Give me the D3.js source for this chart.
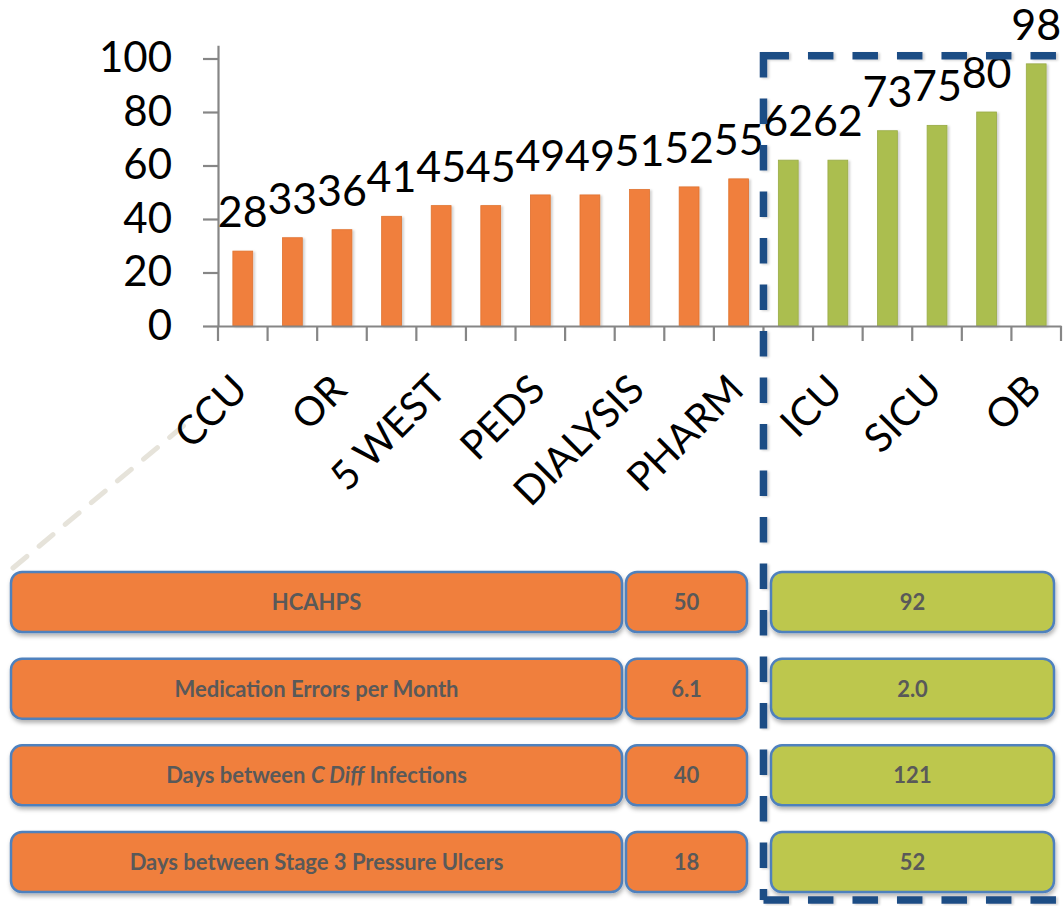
<!DOCTYPE html>
<html><head><meta charset="utf-8">
<script src="https://cdn.jsdelivr.net/npm/d3@7"></script>
<style>body{margin:0;background:#fff;overflow:hidden} svg{display:block}</style>
</head><body><svg id="c" width="1063" height="906"></svg>
<script>
// ---- data ----
const categories = ["CCU","","OR","","5 WEST","","PEDS","","DIALYSIS","","PHARM","","ICU","","SICU","","OB"];
const values = [28,33,36,41,45,45,49,49,51,52,55,62,62,73,75,80,98];
const groups = ["low","low","low","low","low","low","low","low","low","low","low","high","high","high","high","high","high"];
const yTicks = [0,20,40,60,80,100];
const metrics = ["HCAHPS","Medication Errors per Month","Days between C Diff Infections","Days between Stage 3 Pressure Ulcers"];
const italicTerm = "C Diff";
const lowValues = ["50","6.1","40","18"];
const highValues = ["92","2.0","121","52"];

// ---- styles ----
const ORANGE = "#F07F3C", ORANGE_EDGE = "#e0722f";
const GREEN_BAR = "#abbe50", GREEN_EDGE = "#98ab45";
const GREEN_BOX = "#bdc74e";
const BOX_STROKE = "#4f81bd";
const AXIS = "#868686";
const FONT = "Lato, 'Open Sans', sans-serif";

const svg = d3.select("#c");
const defs = svg.append("defs");
const sh = defs.append("filter").attr("id","sh").attr("x","-10%").attr("y","-20%").attr("width","130%").attr("height","160%");
sh.append("feDropShadow").attr("dx",1).attr("dy",3).attr("stdDeviation",2).attr("flood-color","#000").attr("flood-opacity",0.3);
const shb = defs.append("filter").attr("id","shb").attr("x","-50%").attr("y","-10%").attr("width","200%").attr("height","120%");
shb.append("feDropShadow").attr("dx",2).attr("dy",1).attr("stdDeviation",1.2).attr("flood-color","#000").attr("flood-opacity",0.18);

// ---- scales ----
const x = d3.scaleBand().domain(d3.range(values.length)).range([218, 1061]).paddingInner(0.6).paddingOuter(0.3);
const y = d3.scaleLinear().domain([0, 105]).range([326, 326 - 105 * 2.675]);
const x0 = x.range()[0], step = x.step();

// faint dashed callout line
svg.append("line").attr("x1",13).attr("y1",568).attr("x2",194).attr("y2",417)
  .attr("stroke","#e6e3da").attr("stroke-width",5).attr("stroke-dasharray","18,16").attr("stroke-linecap","round");

// bars
svg.append("g").selectAll("rect").data(values).join("rect")
  .attr("x",(d,i)=>x(i)).attr("width",x.bandwidth())
  .attr("y",d=>y(d)).attr("height",d=>y(0)-y(d))
  .attr("fill",(d,i)=>groups[i]==="low"?ORANGE:GREEN_BAR)
  .attr("stroke",(d,i)=>groups[i]==="low"?ORANGE_EDGE:GREEN_EDGE).attr("stroke-width",0.8)
  .attr("filter","url(#shb)");

// y axis
const ya = svg.append("g").attr("transform",`translate(${x0},0)`)
  .call(d3.axisLeft(y).tickValues(yTicks).tickSize(15).tickSizeOuter(0).tickPadding(31));
ya.select(".domain").attr("stroke",AXIS).attr("stroke-width",2.2);
ya.selectAll(".tick line").attr("stroke",AXIS).attr("stroke-width",2.2);
ya.selectAll(".tick text").attr("font-family",FONT).attr("font-size",42).attr("fill","#000");

// x axis
const xa = svg.append("g").attr("transform",`translate(0,${y(0)})`)
  .call(d3.axisBottom(x).tickSize(0).tickSizeOuter(0).tickFormat(i=>categories[i]));
xa.select(".domain").attr("stroke",AXIS).attr("stroke-width",2.2);
xa.selectAll(".tick text").attr("font-family",FONT).attr("font-size",40).attr("fill","#000")
  .attr("text-anchor","end").attr("dy",0).attr("y",0)
  .attr("transform","translate(7,66) rotate(-45)");
xa.append("g").selectAll("line").data(d3.range(values.length+1)).join("line")
  .attr("x1",i=>x0+i*step).attr("x2",i=>x0+i*step).attr("y1",0).attr("y2",15)
  .attr("stroke",AXIS).attr("stroke-width",2.2);

// data labels
svg.append("g").selectAll("text").data(values).join("text")
  .attr("x",(d,i)=>x(i)+x.bandwidth()/2).attr("y",d=>y(d)-24)
  .attr("text-anchor","middle").attr("font-family",FONT).attr("font-size",43).attr("fill","#000")
  .text(d=>d);

// ---- table ----
const rows = d3.scaleBand().domain(metrics).range([572, 892]).paddingInner(0.3077);
const cols = {label:[11,622], low:[626,747], high:[771,1054]};
const tg = svg.append("g");
function boxes(key, fill, texts){
  const g = tg.append("g");
  const c = cols[key];
  g.selectAll("rect").data(metrics).join("rect")
    .attr("x",c[0]).attr("width",c[1]-c[0]).attr("y",d=>rows(d)).attr("height",rows.bandwidth())
    .attr("rx",11).attr("fill",fill).attr("stroke",BOX_STROKE).attr("stroke-width",2.5)
    .attr("filter","url(#sh)");
  const t = g.selectAll("text").data(metrics).join("text")
    .attr("x",(c[0]+c[1])/2).attr("y",d=>rows(d)+rows.bandwidth()/2)
    .attr("dy","0.36em").attr("text-anchor","middle")
    .attr("font-family",FONT).attr("font-weight","bold").attr("font-size",22).attr("fill","#595959");
  t.each(function(d,i){
    const s = texts[i];
    const el = d3.select(this);
    const k = s.indexOf(italicTerm);
    if(k>=0){
      el.append("tspan").text(s.slice(0,k));
      el.append("tspan").attr("font-style","italic").text(italicTerm);
      el.append("tspan").text(s.slice(k+italicTerm.length));
    } else el.text(s);
  });
}
boxes("label", ORANGE, metrics);
boxes("low", ORANGE, lowValues);
boxes("high", GREEN_BOX, highValues);

// dashed highlight frame
const fx = x0 + 11*step, fy = y(101), fb = 900;
const frame = svg.append("g").attr("stroke","#1f4e85").attr("stroke-width",7.5).attr("fill","none").attr("filter","url(#shb)");
frame.append("line").attr("x1",fx).attr("y1",fy).attr("x2",1075).attr("y2",fy).attr("stroke-dasharray","25.5,19");
frame.append("line").attr("x1",fx).attr("y1",fy-3.75).attr("x2",fx).attr("y2",fb).attr("stroke-dasharray","25.5,21");
frame.append("line").attr("x1",fx).attr("y1",fb).attr("x2",1075).attr("y2",fb).attr("stroke-dasharray","25.5,19");
</script></body></html>
